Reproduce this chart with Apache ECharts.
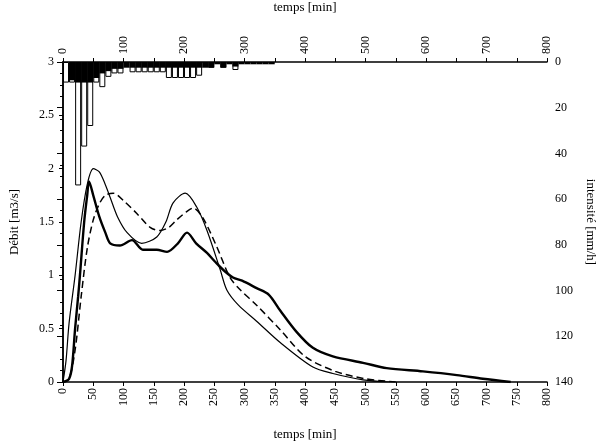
<!DOCTYPE html>
<html>
<head>
<meta charset="utf-8">
<script src="https://cdn.jsdelivr.net/npm/echarts@6/dist/echarts.min.js"></script>
<style>
  html, body { margin: 0; padding: 0; background: #fff; }
  #chart { width: 598px; height: 447px; }
</style>
</head>
<body>
<div id="chart"></div>
<script>
// debits [m3/s] en fonction du temps [min]
const tThick = [0, 10, 15, 20, 25, 28, 35, 40, 43, 50, 60, 70, 78, 94, 114, 132, 155, 172, 190, 205, 220, 238, 251, 265, 281, 296, 320, 340, 359, 386, 413, 446, 496, 535, 595, 651, 694, 740]
const qThick = [0, 0.03, 0.15, 0.5, 0.8, 1.0, 1.5, 1.75, 1.88, 1.75, 1.55, 1.4, 1.3, 1.28, 1.33, 1.24, 1.24, 1.22, 1.3, 1.4, 1.3, 1.21, 1.13, 1.05, 0.98, 0.95, 0.88, 0.82, 0.67, 0.47, 0.32, 0.24, 0.18, 0.13, 0.1, 0.065, 0.03, 0]

const tThin = [0, 5, 10, 20, 30, 40, 50, 60, 70, 78, 90, 106, 130, 155, 170, 182, 202, 221, 238, 260, 271, 290, 320, 359, 413, 446, 496, 540]
const qThin = [0, 0.2, 0.55, 1.0, 1.5, 1.85, 2.0, 1.97, 1.85, 1.73, 1.55, 1.4, 1.3, 1.36, 1.5, 1.68, 1.77, 1.64, 1.42, 1.05, 0.86, 0.72, 0.57, 0.37, 0.14, 0.08, 0.02, 0]

const tDash = [0, 10, 20, 30, 40, 50, 60, 70, 83, 100, 122, 144, 160, 175, 188, 205, 215, 231, 254, 276, 292, 320, 359, 400, 450, 500, 550]
const qDash = [0, 0.03, 0.3, 0.8, 1.25, 1.52, 1.67, 1.75, 1.77, 1.7, 1.58, 1.45, 1.42, 1.45, 1.52, 1.6, 1.63, 1.54, 1.27, 0.98, 0.87, 0.72, 0.49, 0.24, 0.1, 0.03, 0]

// intensites [mm/h], pas de 10 min (centre du pas)
const tRainWhite = [5, 15, 25, 35, 45, 55, 65, 75, 85, 95, 115, 125, 135, 145, 155, 165, 175, 185, 195, 205, 215, 225, 245, 265, 285]
const iRainWhite = [9, 9, 54, 37, 28, 9, 11, 6.5, 5, 5, 4.5, 4.5, 4.5, 4.5, 4.5, 4.5, 7, 7, 7, 7, 7, 6, 2.5, 2.5, 3.5]

const tRainBlack = [15, 25, 35, 45, 55, 65, 75, 85, 95, 105, 115, 125, 135, 145, 155, 165, 175, 185, 195, 205, 215, 225, 235, 245, 255, 265, 275, 285, 295, 305, 315, 325, 335, 345]
const iRainBlack = [8, 9, 9, 9, 7, 5, 4, 3, 3, 2.5, 2.5, 2.5, 2.5, 2.5, 2.5, 2.5, 2.5, 2.5, 2.5, 2.5, 2.5, 2.5, 2.5, 2.5, 1, 2.5, 1, 2, 1, 1, 1, 1, 1, 1]

const pair = (xs, ys) => xs.map((x, i) => [x, ys[i]])

const font = 'Liberation Serif'
const txt = { color: '#000', fontFamily: font, fontSize: 12 }

const option = {
    animation: false,
    backgroundColor: '#fff',
    grid: { left: 63, right: 51, top: 62, bottom: 65, containLabel: false, outerBoundsMode: 'none' },
    xAxis: [
        {
            type: 'value', position: 'bottom', min: 0, max: 800, interval: 50,
            name: 'temps [min]', nameLocation: 'middle', nameGap: 46,
            nameTextStyle: { ...txt, fontSize: 13 },
            axisLine: { lineStyle: { color: '#000', width: 1.5 } },
            axisTick: { inside: false, length: 4, lineStyle: { color: '#000' } },
            axisLabel: { ...txt, rotate: 90, margin: 6 },
            splitLine: { show: false }
        },
        {
            type: 'value', position: 'top', min: 0, max: 800, interval: 100,
            name: 'temps [min]', nameLocation: 'middle', nameGap: 48,
            nameTextStyle: { ...txt, fontSize: 13 },
            axisLine: { lineStyle: { color: '#000', width: 1.5 } },
            axisTick: { inside: false, length: 4, lineStyle: { color: '#000' } },
            minorTick: { show: true, splitNumber: 2, length: 4, lineStyle: { color: '#000' } },
            axisLabel: { ...txt, rotate: 90, margin: 8 },
            splitLine: { show: false }
        }
    ],
    yAxis: [
        {
            type: 'value', position: 'left', min: 0, max: 3, interval: 0.5,
            name: 'Débit [m3/s]', nameLocation: 'middle', nameGap: 42, nameRotate: 90,
            nameTextStyle: { ...txt, fontSize: 13 },
            axisLine: { show: true, lineStyle: { color: '#000', width: 1.5 } },
            axisTick: { show: true, length: 4, lineStyle: { color: '#000' } },
            axisLabel: { ...txt, margin: 9 },
            splitLine: { show: false }
        },
        {
            type: 'value', position: 'right', min: 0, max: 140, interval: 20, inverse: true,
            name: 'intensité [mm/h]', nameLocation: 'middle', nameGap: 36, nameRotate: -90,
            nameTextStyle: { ...txt, fontSize: 13 },
            axisLine: { show: true, lineStyle: { color: '#000', width: 1.5 } },
            axisTick: { show: true, inside: true, length: 6, lineStyle: { color: '#000' } },
            minorTick: { show: true, splitNumber: 4, length: 3, lineStyle: { color: '#000' } },
            axisLabel: { ...txt, margin: 8 },
            splitLine: { show: false }
        }
    ],
    series: [
        {
            type: 'bar', xAxisIndex: 0, yAxisIndex: 1, barWidth: 6, barGap: '-100%',
            data: pair(tRainWhite, iRainWhite),
            itemStyle: { color: '#fff', borderColor: '#000', borderWidth: 1 },
            z: 1
        },
        {
            type: 'bar', xAxisIndex: 0, yAxisIndex: 1, barWidth: 6, barGap: '-100%',
            data: pair(tRainBlack, iRainBlack),
            itemStyle: { color: '#000' },
            z: 2
        },
        {
            type: 'line', xAxisIndex: 0, yAxisIndex: 0, smooth: 0.3, showSymbol: false,
            data: pair(tThin, qThin),
            lineStyle: { color: '#000', width: 1.2 }, z: 3
        },
        {
            type: 'line', xAxisIndex: 0, yAxisIndex: 0, smooth: 0.3, showSymbol: false,
            data: pair(tDash, qDash),
            lineStyle: { color: '#000', width: 1.5, type: [7, 4] }, z: 3
        },
        {
            type: 'line', xAxisIndex: 0, yAxisIndex: 0, smooth: 0.3, showSymbol: false,
            data: pair(tThick, qThick),
            lineStyle: { color: '#000', width: 2.4 }, z: 4
        }
    ]
}

const chart = echarts.init(document.getElementById('chart'))
chart.setOption(option)
</script>
</body>
</html>
